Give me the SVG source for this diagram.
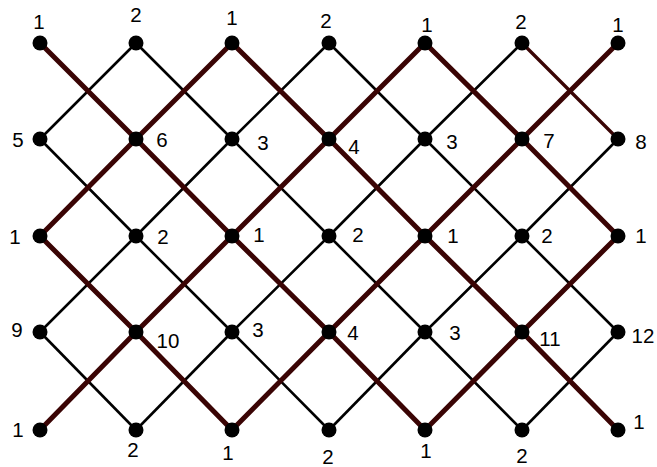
<svg xmlns="http://www.w3.org/2000/svg" width="657" height="467" viewBox="0 0 657 467">
<style>
.bk{stroke:#000;stroke-width:2.6;fill:none;stroke-linecap:round}
.th{stroke:#3a0404;stroke-width:5;fill:none;stroke-linejoin:round;stroke-linecap:round}
.md{stroke:#3a0404;stroke-width:3.3;fill:none;stroke-linecap:round}
.nd{fill:#000}
text{font-family:"Liberation Sans",Arial,sans-serif;font-size:20.5px;fill:#000;text-anchor:middle}
</style>
<rect width="657" height="467" fill="#fff"/>
<g id="connectors">
<g class="bk">
<line x1="136" y1="43" x2="232" y2="139"/>
<line x1="329" y1="43" x2="425" y2="139"/>
<line x1="136" y1="43" x2="40" y2="139"/>
<line x1="329" y1="43" x2="232" y2="139"/>
<line x1="522" y1="43" x2="425" y2="139"/>
<line x1="40" y1="139" x2="136" y2="236"/>
<line x1="232" y1="139" x2="329" y2="236"/>
<line x1="425" y1="139" x2="522" y2="236"/>
<line x1="232" y1="139" x2="136" y2="236"/>
<line x1="425" y1="139" x2="329" y2="236"/>
<line x1="618" y1="139" x2="522" y2="236"/>
<line x1="136" y1="236" x2="232" y2="332"/>
<line x1="329" y1="236" x2="425" y2="332"/>
<line x1="522" y1="236" x2="618" y2="332"/>
<line x1="136" y1="236" x2="40" y2="332"/>
<line x1="329" y1="236" x2="232" y2="332"/>
<line x1="522" y1="236" x2="425" y2="332"/>
<line x1="40" y1="332" x2="136" y2="430"/>
<line x1="232" y1="332" x2="329" y2="430"/>
<line x1="425" y1="332" x2="522" y2="430"/>
<line x1="232" y1="332" x2="136" y2="430"/>
<line x1="425" y1="332" x2="329" y2="430"/>
<line x1="618" y1="332" x2="522" y2="430"/>
</g>
<line class="md" x1="522" y1="43" x2="618" y2="139"/>
<g class="th">
<polyline points="40,43 136,139 232,236 329,332 425,430"/>
<polyline points="232,43 136,139 40,236 136,332 232,430"/>
<polyline points="232,43 329,139 425,236 522,332 618,430"/>
<polyline points="425,43 329,139 232,236 136,332 40,430"/>
<polyline points="425,43 522,139 618,236 522,332 425,430"/>
<polyline points="618,43 522,139 425,236 329,332 232,430"/>
</g>
</g>
<g id="n00"><circle class="nd" cx="40" cy="43" r="7.5"/><text x="39" y="29">1</text></g>
<g id="n10"><circle class="nd" cx="136" cy="43" r="7.5"/><text x="136" y="22">2</text></g>
<g id="n20"><circle class="nd" cx="232" cy="43" r="7.5"/><text x="232" y="25">1</text></g>
<g id="n30"><circle class="nd" cx="329" cy="43" r="7.5"/><text x="326" y="28">2</text></g>
<g id="n40"><circle class="nd" cx="425" cy="43" r="7.5"/><text x="427" y="32">1</text></g>
<g id="n50"><circle class="nd" cx="522" cy="43" r="7.5"/><text x="521" y="29">2</text></g>
<g id="n60"><circle class="nd" cx="618" cy="43" r="7.5"/><text x="618" y="32">1</text></g>

<g id="n01"><circle class="nd" cx="40" cy="139" r="7.5"/><text x="18" y="147">5</text></g>
<g id="n11"><circle class="nd" cx="136" cy="139" r="7.5"/><text x="162" y="147">6</text></g>
<g id="n21"><circle class="nd" cx="232" cy="139" r="7.5"/><text x="263" y="150">3</text></g>
<g id="n31"><circle class="nd" cx="329" cy="139" r="7.5"/><text x="354" y="154">4</text></g>
<g id="n41"><circle class="nd" cx="425" cy="139" r="7.5"/><text x="452" y="149">3</text></g>
<g id="n51"><circle class="nd" cx="522" cy="139" r="7.5"/><text x="549" y="148">7</text></g>
<g id="n61"><circle class="nd" cx="618" cy="139" r="7.5"/><text x="641" y="149">8</text></g>

<g id="n02"><circle class="nd" cx="40" cy="236" r="7.5"/><text x="15" y="244">1</text></g>
<g id="n12"><circle class="nd" cx="136" cy="236" r="7.5"/><text x="163" y="244">2</text></g>
<g id="n22"><circle class="nd" cx="232" cy="236" r="7.5"/><text x="259" y="242">1</text></g>
<g id="n32"><circle class="nd" cx="329" cy="236" r="7.5"/><text x="358" y="242">2</text></g>
<g id="n42"><circle class="nd" cx="425" cy="236" r="7.5"/><text x="453" y="243">1</text></g>
<g id="n52"><circle class="nd" cx="522" cy="236" r="7.5"/><text x="547" y="243">2</text></g>
<g id="n62"><circle class="nd" cx="618" cy="236" r="7.5"/><text x="641" y="243">1</text></g>

<g id="n03"><circle class="nd" cx="40" cy="332" r="7.5"/><text x="17" y="337">9</text></g>
<g id="n13"><circle class="nd" cx="136" cy="332" r="7.5"/><text x="168" y="348">10</text></g>
<g id="n23"><circle class="nd" cx="232" cy="332" r="7.5"/><text x="258" y="337">3</text></g>
<g id="n33"><circle class="nd" cx="329" cy="332" r="7.5"/><text x="353" y="340">4</text></g>
<g id="n43"><circle class="nd" cx="425" cy="332" r="7.5"/><text x="455" y="340">3</text></g>
<g id="n53"><circle class="nd" cx="522" cy="332" r="7.5"/><text x="550" y="346">11</text></g>
<g id="n63"><circle class="nd" cx="618" cy="332" r="7.5"/><text x="643" y="343">12</text></g>

<g id="n04"><circle class="nd" cx="40" cy="430" r="7.5"/><text x="18" y="437">1</text></g>
<g id="n14"><circle class="nd" cx="136" cy="430" r="7.5"/><text x="133" y="457">2</text></g>
<g id="n24"><circle class="nd" cx="232" cy="430" r="7.5"/><text x="228" y="460">1</text></g>
<g id="n34"><circle class="nd" cx="329" cy="430" r="7.5"/><text x="328" y="464">2</text></g>
<g id="n44"><circle class="nd" cx="425" cy="430" r="7.5"/><text x="426" y="458">1</text></g>
<g id="n54"><circle class="nd" cx="522" cy="430" r="7.5"/><text x="522" y="463">2</text></g>
<g id="n64"><circle class="nd" cx="618" cy="430" r="7.5"/><text x="639" y="429">1</text></g>
</svg>
